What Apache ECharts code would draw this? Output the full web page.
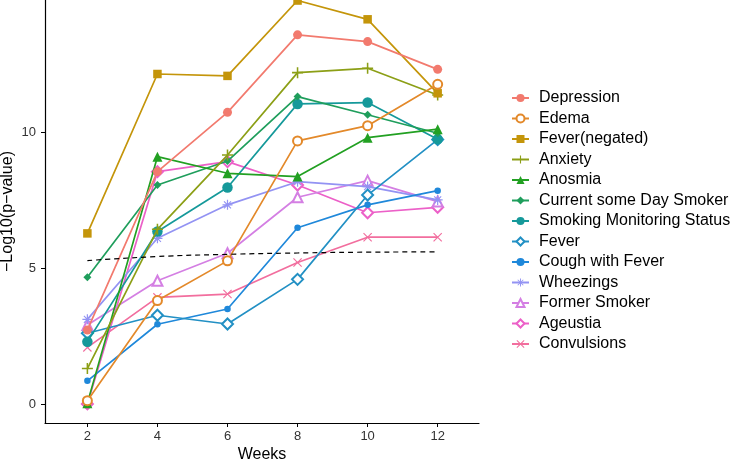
<!DOCTYPE html>
<html>
<head>
<meta charset="utf-8">
<script src="https://cdn.jsdelivr.net/npm/echarts@6/dist/echarts.min.js"></script>
<style>
  html, body { margin: 0; padding: 0; background: #fff; }
  #chart { width: 731px; height: 464px; }
</style>
</head>
<body>
<div id="chart"></div>
<script>
// weeks on the x axis
var weeks = [2, 4, 6, 8, 10, 12];

// -log10(p) per symptom
var names = [
  "Depression", "Edema", "Fever(negated)", "Anxiety", "Anosmia",
  "Current some Day Smoker", "Smoking Monitoring Status", "Fever",
  "Cough with Fever", "Wheezings", "Former Smoker", "Ageustia", "Convulsions"
];
var depression   = [2.72, 8.54, 10.72, 13.57, 13.32, 12.30];
var edema        = [0.12, 3.80, 5.26, 9.67, 10.23, 11.75];
var feverNeg     = [6.27, 12.13, 12.06, 14.83, 14.14, 11.42];
var anxiety      = [1.30, 6.42, 9.15, 12.18, 12.34, 11.36];
var anosmia      = [0.03, 9.09, 8.48, 8.36, 9.79, 10.10];
var currentSmoker = [4.66, 8.05, 8.93, 11.30, 10.63, 9.95];
var smokingStatus = [2.29, 6.34, 7.96, 11.03, 11.08, 9.73];
var fever        = [2.60, 3.26, 2.94, 4.58, 7.68, 9.72];
var coughFever   = [0.85, 2.93, 3.49, 6.48, 7.32, 7.84];
var wheezings    = [3.11, 6.09, 7.32, 8.17, 7.99, 7.50];
var formerSmoker = [2.90, 4.53, 5.54, 7.60, 8.21, 7.44];
var ageustia     = [0.00, 8.54, 8.91, 8.05, 7.03, 7.23];
var convulsions  = [2.08, 3.92, 4.04, 5.20, 6.13, 6.13];

// significance threshold (dashed)
var threshold = [5.27, 5.42, 5.50, 5.55, 5.58, 5.59];

var values = [depression, edema, feverNeg, anxiety, anosmia, currentSmoker,
  smokingStatus, fever, coughFever, wheezings, formerSmoker, ageustia, convulsions];

var xTicks = [2, 4, 6, 8, 10, 12];
var yTicks = [0, 5, 10];

var colors = ["#F27A6E", "#E3892A", "#C4950A", "#8C9F16", "#22A022", "#1F9E5C",
  "#15999A", "#2290C4", "#1F88DA", "#9393F3", "#D47FE3", "#EC60C8", "#F26E9E"];

var plusPath = "path://M-0.7,-5h1.4v10h-1.4zM-5,-0.7h10v1.4h-10z";
var xPath = "path://M-5,-4.1L-4.1,-5L5,4.1L4.1,5zM4.1,-5L5,-4.1L-4.1,5L-5,4.1z";
var starPath = "path://M-0.6,-5h1.2v10h-1.2zM-5,-0.6h10v1.2h-10z" +
  "M-3.9,-3.1L-3.1,-3.9L3.9,3.1L3.1,3.9zM3.1,-3.9L3.9,-3.1L-3.1,3.9L-3.9,3.1z";

var symbols = [
  ["circle", 9], ["emptyCircle", 9], ["rect", 8.5], [plusPath, 11],
  ["triangle", 10], ["diamond", 8], ["circle", 10.5], ["emptyDiamond", 11],
  ["circle", 6.5], [starPath, 10], ["emptyTriangle", 10], ["emptyDiamond", 11],
  [xPath, 9]
];

function pairs(arr) {
  return weeks.map(function (w, i) { return [w, arr[i]]; });
}

var series = names.map(function (n, i) {
  return {
    name: n,
    type: "line",
    data: pairs(values[i]),
    symbol: symbols[i][0],
    symbolSize: symbols[i][1],
    showAllSymbol: true,
    color: colors[i],
    lineStyle: { width: 1.7, color: colors[i] },
    itemStyle: { color: colors[i], borderWidth: symbols[i][0].indexOf("empty") === 0 ? 1.4 : 0 },
    z: 20 - i
  };
});

series.push({
  name: "threshold",
  type: "line",
  data: pairs(threshold),
  smooth: true,
  symbol: "none",
  lineStyle: { color: "#000", width: 1.2, type: [5, 4] },
  z: 30
});

var chart = echarts.init(document.getElementById("chart"), null, { renderer: "canvas" });
chart.setOption({
  animation: false,
  backgroundColor: "#fff",
  textStyle: { fontFamily: "Liberation Sans, Arial, sans-serif" },
  grid: { left: 45, right: 252, top: 0, bottom: 41, containLabel: false, outerBoundsMode: "none" },
  xAxis: {
    type: "value",
    min: 0.79,
    max: 13.18,
    name: "Weeks",
    nameLocation: "middle",
    nameGap: 24,
    nameMoveOverlap: false,
    nameTextStyle: { fontSize: 16, color: "#000" },
    axisLine: { show: true, onZero: false, lineStyle: { color: "#000", width: 1.2 } },
    axisTick: { show: true, length: 4, customValues: xTicks, lineStyle: { color: "#000" } },
    axisLabel: { customValues: xTicks, fontSize: 13, color: "#333", margin: 7 },
    splitLine: { show: false }
  },
  yAxis: {
    type: "value",
    min: -0.7,
    max: 14.85,
    name: "\u2212Log10(p\u2212value)",
    nameLocation: "middle",
    nameGap: 29,
    nameMoveOverlap: false,
    nameTextStyle: { fontSize: 16, color: "#000" },
    axisLine: { show: true, onZero: false, lineStyle: { color: "#000", width: 1.2 } },
    axisTick: { show: true, length: 4, customValues: yTicks, lineStyle: { color: "#000" } },
    axisLabel: { customValues: yTicks, fontSize: 13, color: "#333", margin: 9 },
    splitLine: { show: false }
  },
  legend: {
    data: names,
    orient: "vertical",
    left: 506,
    top: 85,
    itemWidth: 17,
    itemHeight: 10,
    itemGap: 4.5,
    textStyle: { fontSize: 16, color: "#000", padding: [0, 0, 0, 5], lineHeight: 16 }
  },
  series: series
});
</script>
</body>
</html>
